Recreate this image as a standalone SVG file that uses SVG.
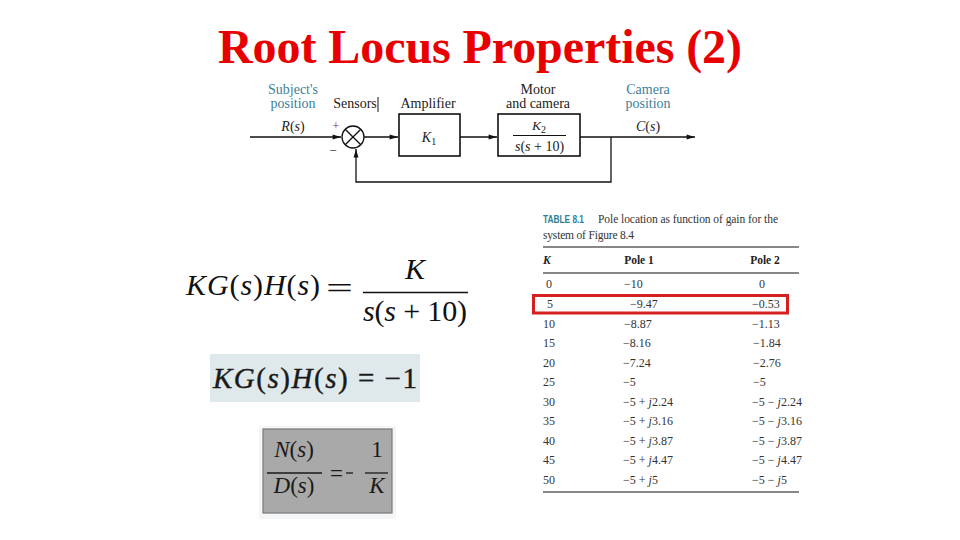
<svg xmlns="http://www.w3.org/2000/svg" width="960" height="540" viewBox="0 0 960 540">
<defs>
<style>
.title{font-family:"Liberation Serif","Times New Roman",serif;font-weight:bold;font-size:48px;fill:#e80000}
.lbl{font-family:"Liberation Serif","Times New Roman",serif;font-size:14px;fill:#222;text-anchor:middle}
.teal{fill:#3d7f98}
.it{font-style:italic}
.ln{stroke:#111;stroke-width:1.3;fill:none}
.box{stroke:#111;stroke-width:1.6;fill:#fff}
.tb{font-family:"Liberation Serif","Times New Roman",serif;font-size:12px;fill:#333}
.th{font-family:"Liberation Serif","Times New Roman",serif;font-size:11.5px;font-weight:bold;fill:#222}
.rule{stroke:#111;stroke-width:1.2}
.eq{font-family:"Liberation Serif","Times New Roman",serif;fill:#111}
</style>
<marker id="ah" viewBox="0 0 12 10" refX="12" refY="5" markerWidth="11" markerHeight="7" markerUnits="userSpaceOnUse" orient="auto">
<path d="M0,1.5 L12,5 L0,8.5 Z" fill="#111"/>
</marker>
</defs>
<rect width="960" height="540" fill="#fff"/>

<text class="title" x="218" y="63" textLength="524">Root Locus Properties (2)</text>

<!-- Block diagram -->
<g id="connectors">
<line class="ln" x1="250" y1="137" x2="341" y2="137" marker-end="url(#ah)"/>
<line class="ln" x1="364" y1="137" x2="398" y2="137" marker-end="url(#ah)"/>
<line class="ln" x1="460" y1="137" x2="497" y2="137" marker-end="url(#ah)"/>
<line class="ln" x1="580" y1="137" x2="695" y2="137" marker-end="url(#ah)"/>
<polyline class="ln" points="611,137 611,182 356,182 356,149" marker-end="url(#ah)"/>
</g>

<g id="input-label">
<text class="lbl teal" x="293" y="94">Subject's</text>
<text class="lbl teal" x="293" y="108">position</text>
<text class="lbl" x="293" y="131"><tspan class="it">R</tspan>(<tspan class="it">s</tspan>)</text>
</g>

<g id="sum">
<circle cx="353" cy="137" r="11" fill="#fff" stroke="#111" stroke-width="1.3"/>
<line class="ln" x1="345.2" y1="129.2" x2="360.8" y2="144.8"/>
<line class="ln" x1="360.8" y1="129.2" x2="345.2" y2="144.8"/>
<text class="lbl" x="355" y="108">Sensors</text>
<line x1="378" y1="97" x2="378" y2="112" stroke="#111" stroke-width="1"/>
<text class="lbl" x="336" y="130" style="fill:#8a2050;font-size:12px">+</text>
<text class="lbl" x="333" y="155" style="font-size:13px">−</text>
</g>

<g id="amplifier">
<text class="lbl" x="428" y="108">Amplifier</text>
<rect class="box" x="399" y="114" width="61" height="42"/>
<text class="lbl it" x="429" y="142" style="font-size:14px">K<tspan font-size="10" font-style="normal" dy="3">1</tspan></text>
</g>

<g id="motor">
<text class="lbl" x="538" y="94">Motor</text>
<text class="lbl" x="538" y="108">and camera</text>
<rect class="box" x="498" y="114" width="82" height="42"/>
<text class="lbl it" x="539" y="130" style="font-size:13.5px">K<tspan font-size="10" font-style="normal" dy="3">2</tspan></text>
<line x1="513" y1="135.5" x2="566" y2="135.5" stroke="#111" stroke-width="1"/>
<text class="lbl" x="539.5" y="151" style="font-size:14px"><tspan class="it">s</tspan>(<tspan class="it">s</tspan> + 10)</text>
</g>

<g id="output-label">
<text class="lbl teal" x="648" y="94">Camera</text>
<text class="lbl teal" x="648" y="108">position</text>
<text class="lbl" x="648" y="131"><tspan class="it">C</tspan>(<tspan class="it">s</tspan>)</text>
</g>

<!-- Equations -->
<g id="eq1">
<text class="eq" x="186" y="295" font-size="30" textLength="134"><tspan class="it">KG</tspan>(<tspan class="it">s</tspan>)<tspan class="it">H</tspan>(<tspan class="it">s</tspan>)</text>
<text class="eq" x="326" y="298" font-size="30" textLength="27" lengthAdjust="spacingAndGlyphs">=</text>
<text class="eq it" x="415" y="279" font-size="30" text-anchor="middle">K</text>
<line x1="363" y1="292.5" x2="468" y2="292.5" stroke="#111" stroke-width="1.4"/>
<text class="eq" x="363" y="321" font-size="30" textLength="104"><tspan class="it">s</tspan>(<tspan class="it">s</tspan> + 10)</text>
</g>

<g id="eq2">
<rect x="210" y="354" width="210" height="48" fill="#dfe9eb"/>
<text class="eq" x="213" y="388" font-size="29" textLength="204" style="fill:#1a1a1a;stroke:#1a1a1a;stroke-width:0.4"><tspan class="it">KG</tspan>(<tspan class="it">s</tspan>)<tspan class="it">H</tspan>(<tspan class="it">s</tspan>) = −1</text>
</g>

<g id="eq3">
<rect x="259" y="426" width="137" height="93" fill="#f3f5f6"/>
<rect x="263" y="429" width="129" height="84" fill="#a9a9a9" stroke="#7a7a7a" stroke-width="1.2"/>
<text class="eq" x="294" y="457" font-size="23" text-anchor="middle" style="fill:#1a1a1a"><tspan class="it">N</tspan>(<tspan class="it">s</tspan>)</text>
<line x1="267" y1="473" x2="322" y2="473" stroke="#1a1a1a" stroke-width="1.3"/>
<text class="eq" x="294" y="493" font-size="23" text-anchor="middle" style="fill:#1a1a1a"><tspan class="it">D</tspan>(<tspan class="it">s</tspan>)</text>
<text class="eq" x="330" y="481" font-size="23" textLength="13" lengthAdjust="spacingAndGlyphs" style="fill:#1a1a1a">=</text>
<line x1="346" y1="473" x2="353" y2="473" stroke="#1a1a1a" stroke-width="1.3"/>
<text class="eq" x="377" y="457" font-size="23" text-anchor="middle" style="fill:#1a1a1a">1</text>
<line x1="365" y1="473" x2="388" y2="473" stroke="#1a1a1a" stroke-width="1.3"/>
<text class="eq it" x="377" y="493" font-size="23" text-anchor="middle" style="fill:#1a1a1a">K</text>
</g>

<!-- Table -->
<g id="table">
<text x="543" y="223" font-family="Liberation Sans, Arial, sans-serif" font-size="10" font-weight="bold" fill="#2f8095" textLength="41" lengthAdjust="spacingAndGlyphs">TABLE 8.1</text>
<text class="tb" x="598" y="223" textLength="180" style="font-size:11.5px">Pole location as function of gain for the</text>
<text class="tb" x="543" y="239" textLength="91" style="font-size:11.5px">system of Figure 8.4</text>
<line class="rule" x1="543" y1="247" x2="799" y2="247"/>
<text class="th it" x="543" y="264">K</text>
<text class="th" x="639" y="264" text-anchor="middle">Pole 1</text>
<text class="th" x="765" y="264" text-anchor="middle">Pole 2</text>
<line class="rule" x1="543" y1="273" x2="799" y2="273"/>

<g class="tb">
<text x="549" y="288" text-anchor="middle">0</text><text x="624" y="288">−10</text><text x="759" y="288">0</text>
<text x="550" y="308" text-anchor="middle">5</text><text x="630" y="308">−9.47</text><text x="752" y="308">−0.53</text>
<text x="549" y="328" text-anchor="middle">10</text><text x="624" y="328">−8.87</text><text x="752" y="328">−1.13</text>
<text x="549" y="347" text-anchor="middle">15</text><text x="623" y="347">−8.16</text><text x="753" y="347">−1.84</text>
<text x="549" y="367" text-anchor="middle">20</text><text x="623" y="367">−7.24</text><text x="753" y="367">−2.76</text>
<text x="549" y="386" text-anchor="middle">25</text><text x="623" y="386">−5</text><text x="753" y="386">−5</text>
<text x="549" y="406" text-anchor="middle">30</text><text x="623" y="406">−5 + <tspan font-style="italic">j</tspan>2.24</text><text x="752" y="406">−5 − <tspan font-style="italic">j</tspan>2.24</text>
<text x="549" y="425" text-anchor="middle">35</text><text x="623" y="425">−5 + <tspan font-style="italic">j</tspan>3.16</text><text x="752" y="425">−5 − <tspan font-style="italic">j</tspan>3.16</text>
<text x="549" y="445" text-anchor="middle">40</text><text x="623" y="445">−5 + <tspan font-style="italic">j</tspan>3.87</text><text x="752" y="445">−5 − <tspan font-style="italic">j</tspan>3.87</text>
<text x="549" y="464" text-anchor="middle">45</text><text x="623" y="464">−5 + <tspan font-style="italic">j</tspan>4.47</text><text x="752" y="464">−5 − <tspan font-style="italic">j</tspan>4.47</text>
<text x="549" y="484" text-anchor="middle">50</text><text x="623" y="484">−5 + <tspan font-style="italic">j</tspan>5</text><text x="752" y="484">−5 − <tspan font-style="italic">j</tspan>5</text>
</g>
<line class="rule" x1="543" y1="492" x2="799" y2="492"/>
<rect x="533.5" y="295.5" width="254" height="17.5" fill="none" stroke="#d42020" stroke-width="3"/>
</g>
</svg>
